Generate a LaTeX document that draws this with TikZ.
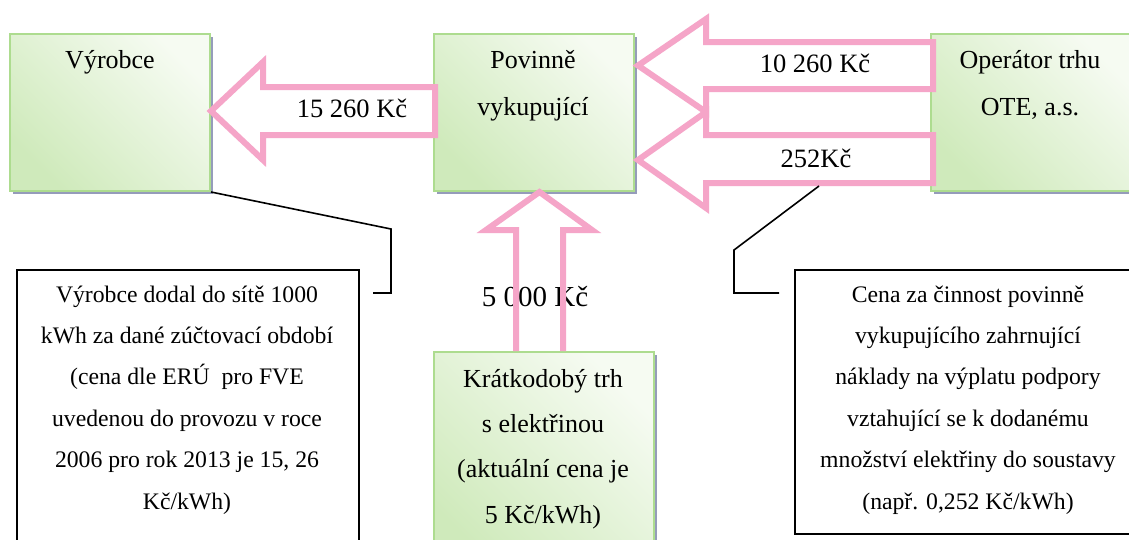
\documentclass[tikz,border=0pt]{standalone}
\usepackage{fontspec}
\setmainfont{Liberation Serif}
\usetikzlibrary{shadows}
\definecolor{boxline}{HTML}{ADDC8F}
\definecolor{boxlight}{HTML}{F6FBF2}
\definecolor{boxdark}{HTML}{CFEABB}
\definecolor{boxshadow}{HTML}{959CBA}
\definecolor{flow}{HTML}{F5A5C8}
\begin{document}
\begin{tikzpicture}[x=1pt,y=-1pt,
  party/.style={draw=boxline, line width=2pt, top color=boxlight,
    bottom color=boxdark, shading angle=-45,
    drop shadow={shadow xshift=3pt, shadow yshift=-3pt, fill=boxshadow, opacity=1},
    inner sep=0pt, anchor=north west},
  note/.style={draw=black, line width=1.6pt, fill=white, inner sep=0pt, anchor=north west},
  lbl/.style={font=\fontsize{26}{47}\selectfont, inner sep=0pt, anchor=base, align=center},
  notetext/.style={font=\fontsize{23.7}{41.4}\selectfont, inner sep=0pt, anchor=base, align=center},
  amount/.style={font=\fontsize{26.5}{30}\selectfont, inner sep=0pt, anchor=base},
  flowarrow/.style={draw=flow, line width=6pt, miter limit=4},
  callout/.style={draw=black, line width=1.6pt}]
\useasboundingbox (0,0) rectangle (1129,539);
\fill[white] (0,0) rectangle (1129,539);
\clip (0,0) rectangle (1129,539);

% parties
\node[party, minimum width=200pt, minimum height=157pt] (vyr) at (9,33) {};
\node[party, minimum width=200pt, minimum height=157pt] (pov) at (433,33) {};
\node[party, minimum width=202pt, minimum height=157pt] (ote) at (930,33) {};
\node[party, minimum width=220pt, minimum height=220pt] (trh) at (433,351) {};

% explanatory notes
\node[note, minimum width=342pt, minimum height=300pt] (n1) at (16,269) {};
\node[note, minimum width=350pt, minimum height=264pt] (n2) at (794,269) {};

% payment flows
\draw[flowarrow, fill=white] (435,87) -- (263,87) -- (263,62) -- (211,111)
  -- (263,160) -- (263,135) -- (435,135) -- cycle;
\draw[flowarrow, fill=white] (933,42) -- (706,42) -- (706,19) -- (638,65.5)
  -- (706,112) -- (706,89) -- (933,89) -- cycle;
\draw[flowarrow, fill=white] (933,135) -- (706,135) -- (706,112) -- (638,160)
  -- (706,208) -- (706,183) -- (933,183) -- cycle;

% labels (a multi-line node sits on the baseline of its last line)
\node[lbl] (tvyr) at (110,68) {Výrobce};
\node[lbl] (tpov) at (533,115) {Povinně\\vykupující};
\node[lbl] (tote) at (1030,115) {Operátor trhu\\OTE, a.s.};
\node[lbl, font=\fontsize{26}{45.3}\selectfont] (ttrh) at (543,523)
  {Krátkodobý trh\\s elektřinou\\(aktuální cena je\\5 Kč/kWh)};

\node[amount] (a1) at (352,117) {15 260 Kč};
\node[amount] (a2) at (815,72) {10 260 Kč};
\node[amount] (a3) at (816,167) {252Kč};
\node[amount, font=\fontsize{29}{32}\selectfont] (a4) at (535,306) {5 000 Kč};

% market flow (outline only)
\draw[flowarrow] (516,351) -- (516,230) -- (486,230) -- (539.5,192)
  -- (592,230) -- (563,230) -- (563,351);

\node[notetext] (tn1) at (187,509) {Výrobce dodal do sítě 1000\\kWh za dané zúčtovací období\\(cena dle ERÚ\ \ pro FVE\\uvedenou do provozu v roce\\2006 pro rok 2013 je 15, 26\\Kč/kWh)};
\node[notetext] (tn2) at (968,509) {Cena za činnost povinně\\vykupujícího zahrnující\\náklady na výplatu podpory\\vztahující se k dodanému\\množství elektřiny do soustavy\\(např. 0,252 Kč/kWh)};

% callout leaders
\coordinate (c1a) at (391,229);
\coordinate (c1b) at (391,293);
\coordinate (c1c) at (373,293);
\draw[callout] (vyr.south east) -- (c1a) -- (c1b) -- (c1c);
\coordinate (c2s) at (819,186);
\coordinate (c2a) at (734,250);
\coordinate (c2b) at (734,293);
\coordinate (c2c) at (779,293);
\draw[callout] (c2s) -- (c2a) -- (c2b) -- (c2c);
\end{tikzpicture}
\end{document}
